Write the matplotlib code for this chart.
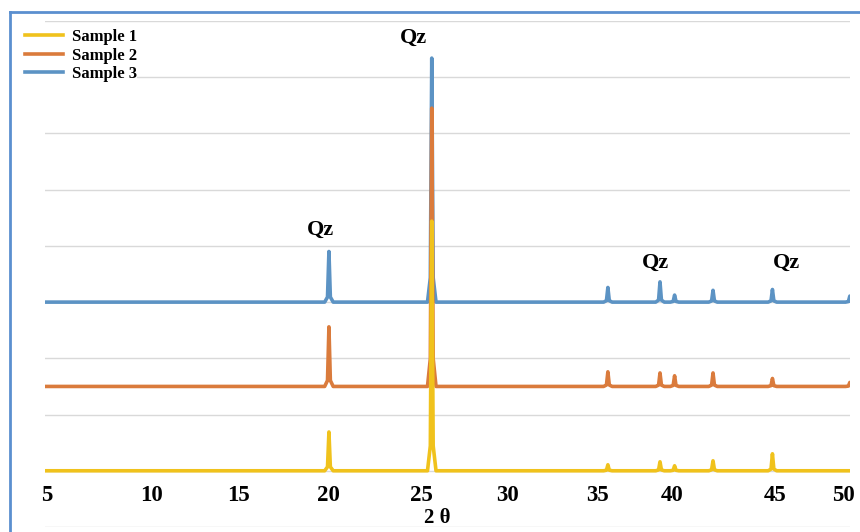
import numpy as np
import matplotlib.pyplot as plt
from matplotlib.lines import Line2D

# quartz reflections (2 theta, degrees)
peak_pos = [20.86, 26.64, 36.54, 39.47, 40.29, 42.45, 45.79, 50.14]

# peak heights above each baseline
sample1_heights = [690, 4440, 107, 160, 89, 178, 302, 0]
sample2_heights = [1060, 4950, 260, 240, 190, 240, 142, 71]
sample3_heights = [900, 4340, 260, 360, 125, 210, 225, 107]
baselines = [1000, 2500, 4000]

labels = ['Sample 1', 'Sample 2', 'Sample 3']
colors = ['#F0C21C', '#DA7B3C', '#5C93C4']

tick_labels = ['5', '10', '15', '20', '25', '30', '35', '40', '45', '50']
tick_pos = [5.0, 10.9, 15.8, 20.86, 26.04, 30.87, 35.98, 40.14, 45.93, 49.76]

# narrow spike shape for each reflection
shape_dx = [-0.24, -0.08, 0.0, 0.08, 0.24]
shape_frac = [0, 0.1, 1, 0.1, 0]


def trace(base, heights):
    xs, ys = [4.9], [base]
    for p, h in zip(peak_pos, heights):
        for dx, f in zip(shape_dx, shape_frac):
            xs.append(p + dx)
            ys.append(base + f * h)
    xs.append(50.6)
    ys.append(base)
    return xs, ys


serif = 'Liberation Serif'

fig = plt.figure(figsize=(8.6, 5.32), dpi=100)
ax = fig.add_axes([45 / 860, 5 / 532, 805 / 860, 506 / 532])

series = [sample1_heights, sample2_heights, sample3_heights]
handles = []
# blue first, yellow on top
for i in [2, 1, 0]:
    xs, ys = trace(baselines[i], series[i])
    ln, = ax.plot(xs, ys, color=colors[i], lw=2.6, solid_joinstyle='round', label=labels[i])
    handles.append(ln)
handles = handles[::-1]

ax.set_xlim(4.9, 50.15)
ax.set_ylim(0, 9000)
ax.set_yticks(np.arange(0, 9001, 1000))
ax.yaxis.grid(True, color='#D9D9D9', lw=1)
ax.set_axisbelow(True)
ax.tick_params(left=False, labelleft=False, bottom=False, labelbottom=False)
for s in ax.spines.values():
    s.set_visible(False)

# x tick labels sit inside the plot, above the last gridline
xt = ax.get_xaxis_transform()
for p, t in zip(tick_pos, tick_labels):
    ax.text(p, 0.0514, t, transform=xt, ha='center', va='baseline',
            family=serif, weight='bold', fontsize=16.5)
ax.text(0.487, 0.008, '2 θ', transform=ax.transAxes, ha='center', va='baseline',
        family=serif, weight='bold', fontsize=15)

# Qz annotations
for x, y in [(25.59, 8700), (20.36, 5285), (39.19, 4700), (46.55, 4700)]:
    ax.text(x, y, 'Qz', ha='center', va='center', family=serif, weight='bold', fontsize=16)

ax.legend(handles, labels, loc='upper left', bbox_to_anchor=(25 / 860, 1 - 29 / 532),
          bbox_transform=fig.transFigure, frameon=True, facecolor='white', edgecolor='none',
          framealpha=1, fancybox=False, borderpad=0, borderaxespad=0, handlelength=2.3,
          handletextpad=0.5, labelspacing=0.15,
          prop=dict(family=serif, weight='bold', size=12))

# blue page frame on the left and top
fig.add_artist(Line2D([10 / 860, 10 / 860], [0, 1 - 12 / 532], transform=fig.transFigure,
                      color='#5B8FCF', lw=2))
fig.add_artist(Line2D([10 / 860, 1], [1 - 12 / 532, 1 - 12 / 532], transform=fig.transFigure,
                      color='#5B8FCF', lw=2))

fig.savefig('out.png', dpi=100)
